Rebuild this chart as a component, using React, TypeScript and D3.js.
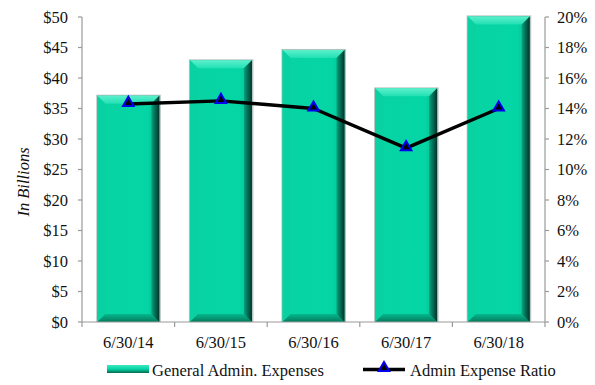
import React from "react";
import * as d3 from "d3";

const categories = ["6/30/14", "6/30/15", "6/30/16", "6/30/17", "6/30/18"];
const expenses = [37.1, 42.9, 44.6, 38.3, 50.1];
const ratio = [14.3, 14.5, 14.0, 11.4, 14.0];
const leftTicks = [0, 5, 10, 15, 20, 25, 30, 35, 40, 45, 50];
const rightTicks = [0, 2, 4, 6, 8, 10, 12, 14, 16, 18, 20];
const seriesNames = ["General Admin. Expenses", "Admin Expense Ratio"];

const W = 595, H = 385;
const M = { left: 82, right: 545, top: 17, bottom: 322 };
const AXIS = "#9a9a9a";
const FS = 16.5;
const TS: React.CSSProperties = { fontFamily: "'Liberation Serif'" };

function Bar({ x, y, w, h }: { x: number; y: number; w: number; h: number }) {
  const b = Math.min(8, h / 2);
  const r = x + w, btm = y + h;
  return (
    <g>
      <rect x={x - 1} y={y - 1} width={w + 2.5} height={h + 1} fill="#b8c4c0" />
      <rect x={x} y={y} width={w} height={h} fill="url(#mainG)" />
      <polygon points={`${x},${y} ${r},${y} ${r - b},${y + b} ${x + b},${y + b}`} fill="url(#topG)" />
      <polygon points={`${x},${y} ${x + b},${y + b} ${x + b},${btm - b} ${x},${btm}`} fill="#0ad1a1" />
      <polygon points={`${x},${btm} ${x + b},${btm - b} ${r - b},${btm - b} ${r},${btm}`} fill="url(#botG)" />
      <polygon points={`${r},${y} ${r},${btm} ${r - b},${btm - b} ${r - b},${y + b}`} fill="url(#rightG)" />
    </g>
  );
}

export default function App() {
  const x = d3.scaleBand<string>().domain(categories).range([M.left, M.right]).paddingInner(0.33).paddingOuter(0.165);
  const yL = d3.scaleLinear().domain([0, 50]).range([M.bottom, M.top]);
  const yR = d3.scaleLinear().domain([0, 20]).range([M.bottom, M.top]);
  const step = (M.right - M.left) / categories.length;
  const bounds = d3.range(categories.length + 1).map((i) => M.left + i * step);
  const cx = (c: string) => (x(c) as number) + x.bandwidth() / 2;
  const line = d3.line<number>().x((_, i) => cx(categories[i])).y((d) => yR(d));
  const triPath = d3.symbol().type(d3.symbolTriangle).size(48)() as string;

  return (
    <svg width={W} height={H} style={{ position: "absolute", left: 0, top: 0 }}>
      <defs>
        <linearGradient id="mainG" x1="0" x2="1" y1="0" y2="0">
          <stop offset="0" stopColor="#08d3a3" />
          <stop offset="0.8" stopColor="#05d5a5" />
          <stop offset="1" stopColor="#03b88c" />
        </linearGradient>
        <linearGradient id="topG" x1="0" x2="0" y1="0" y2="1">
          <stop offset="0" stopColor="#5cf0cc" />
          <stop offset="1" stopColor="#22e0b4" />
        </linearGradient>
        <linearGradient id="botG" x1="0" x2="0" y1="0" y2="1">
          <stop offset="0" stopColor="#05b88d" />
          <stop offset="1" stopColor="#037a5c" />
        </linearGradient>
        <linearGradient id="rightG" x1="0" x2="1" y1="0" y2="0">
          <stop offset="0" stopColor="#04a27c" />
          <stop offset="1" stopColor="#01332a" />
        </linearGradient>
        <linearGradient id="legG" x1="0" x2="0" y1="0" y2="1">
          <stop offset="0" stopColor="#3ee8c0" />
          <stop offset="0.5" stopColor="#05d5a5" />
          <stop offset="1" stopColor="#036a50" />
        </linearGradient>
      </defs>

      {categories.map((c, i) => (
        <Bar key={c} x={x(c) as number} y={yL(expenses[i])} w={x.bandwidth()} h={M.bottom - yL(expenses[i])} />
      ))}

      {/* left axis */}
      <line x1={M.left} x2={M.left} y1={M.top} y2={M.bottom} stroke={AXIS} strokeWidth={1.2} />
      {leftTicks.map((t) => (
        <g key={t}>
          <line x1={M.left - 4} x2={M.left} y1={yL(t)} y2={yL(t)} stroke={AXIS} strokeWidth={1.2} />
          <text x={M.left - 14} y={yL(t)} dy="0.35em" textAnchor="end" fontSize={FS} fill="#111" style={TS}>{`$${t}`}</text>
        </g>
      ))}
      {/* right axis */}
      <line x1={M.right} x2={M.right} y1={M.top} y2={M.bottom} stroke={AXIS} strokeWidth={1.2} />
      {rightTicks.map((t) => (
        <g key={t}>
          <line x1={M.right} x2={M.right + 4} y1={yR(t)} y2={yR(t)} stroke={AXIS} strokeWidth={1.2} />
          <text x={M.right + 12} y={yR(t)} dy="0.35em" textAnchor="start" fontSize={FS} fill="#111" style={TS}>{`${t}%`}</text>
        </g>
      ))}
      {/* bottom axis */}
      <line x1={M.left} x2={M.right} y1={M.bottom} y2={M.bottom} stroke={AXIS} strokeWidth={1.2} />
      {bounds.map((b, i) => (
        <line key={i} x1={b} x2={b} y1={M.bottom} y2={M.bottom + 5} stroke={AXIS} strokeWidth={1.2} />
      ))}
      {categories.map((c) => (
        <text key={c} x={cx(c)} y={M.bottom + 26} textAnchor="middle" fontSize={FS} fill="#111" style={TS}>{c}</text>
      ))}

      <text transform={`translate(29,182) rotate(-90)`} textAnchor="middle" fontSize={FS} fontStyle="italic" fill="#111" style={TS}>In Billions</text>

      {/* ratio line */}
      <path d={line(ratio) as string} fill="none" stroke="#000" strokeWidth={3.5} strokeLinejoin="round" />
      {ratio.map((v, i) => (
        <path key={i} d={triPath} transform={`translate(${cx(categories[i])},${yR(v) - 1})`} fill="#000" stroke="#0000ee" strokeWidth={2} />
      ))}

      {/* legend */}
      <rect x={107} y={365} width={42} height={8} fill="url(#legG)" />
      <text x={152} y={376} fontSize={FS} fill="#111" style={TS}>{seriesNames[0]}</text>
      <line x1={363} x2={405} y1={369.5} y2={369.5} stroke="#000" strokeWidth={3.5} />
      <path d={triPath} transform="translate(384,368)" fill="#000" stroke="#0000ee" strokeWidth={2} />
      <text x={410} y={376} fontSize={FS} fill="#111" style={TS}>{seriesNames[1]}</text>
    </svg>
  );
}
